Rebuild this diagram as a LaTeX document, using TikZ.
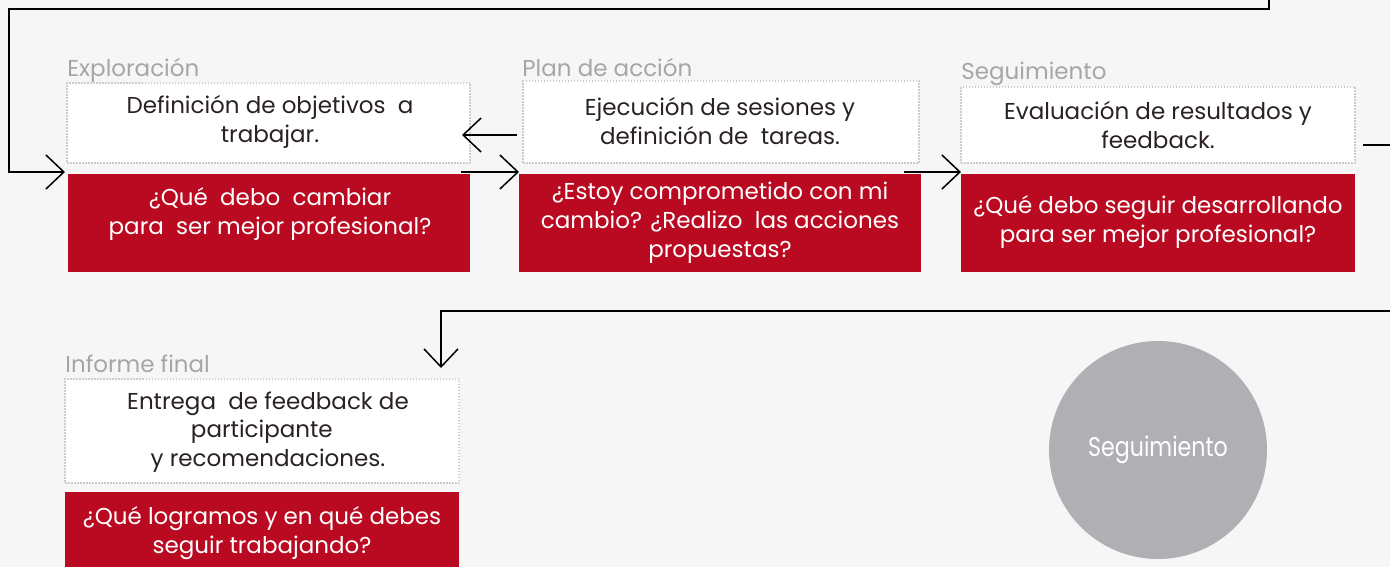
\documentclass[tikz,border=0pt]{standalone}
\usepackage{fontspec}
\setmainfont{Poppins}
\usetikzlibrary{arrows.meta}
\definecolor{bg}{HTML}{F6F6F6}
\definecolor{redbox}{HTML}{BA0A22}
\definecolor{lbl}{HTML}{A6A6A6}
\definecolor{dotc}{HTML}{CDCDCD}
\definecolor{txt}{HTML}{2A2222}
\definecolor{circ}{HTML}{B0AFB4}
\tikzset{
  whitebox/.style={draw=dotc, line width=0.75pt, dash pattern=on 0.75pt off 0.75pt, fill=white, inner sep=0pt},
  redrect/.style={fill=redbox, draw=none, inner sep=0pt},
  wtext/.style={text=txt, align=center, font=\fontsize{11.5}{14.4}\selectfont, inner sep=0pt},
  rtext/.style={text=white, align=center, font=\fontsize{11.5}{14.4}\selectfont, inner sep=0pt},
  stagelbl/.style={text=lbl, anchor=base west, font=\fontsize{11.5}{14}\selectfont, inner sep=0pt},
  arr/.style={-{Straight Barb[length=9pt,width=17pt]}, line width=0.75pt, black},
  conn/.style={line width=0.75pt, black}
}
\begin{document}
\begin{tikzpicture}[x=0.5pt,y=-0.5pt]
\fill[bg] (0,0) rectangle (1390,567);
\useasboundingbox (0,0) rectangle (1390,567);

% boxes
\node[whitebox, minimum width=201.5pt, minimum height=40pt] (e1) at (268.5,123) {};
\node[redrect, minimum width=201pt, minimum height=49pt] (e2) at (269,223) {};
\node[whitebox, minimum width=198pt, minimum height=41pt] (p1) at (721,122) {};
\node[redrect, minimum width=201pt, minimum height=49pt] (p2) at (720,223) {};
\node[whitebox, minimum width=197pt, minimum height=38pt] (s1) at (1158,125) {};
\node[redrect, minimum width=197pt, minimum height=49pt] (s2) at (1158,223) {};
\node[whitebox, minimum width=197pt, minimum height=52pt] (i1) at (262,431) {};
\node[redrect, minimum width=197pt, minimum height=37.5pt] (i2) at (262,529.75) {};

% stage labels
\node[stagelbl] (le) at (67,76) {Exploración};
\node[stagelbl] (lp) at (522,76) {Plan de acción};
\node[stagelbl] (ls) at (961,80) {Seguimiento};
\node[stagelbl] (li) at (65,372) {Informe final};

% texts
\node[wtext] (te1) at (270,122) {Definición de objetivos\ \ a\\trabajar.};
\node[rtext] (te2) at (270,214) {¿Qué\ \ debo\ \ cambiar\\para\ \ ser mejor profesional?};
\node[wtext] (tp1) at (720,121) {Ejecución de sesiones y\\definición de\ \ tareas.};
\node[rtext] (tp2) at (720,223) {¿Estoy comprometido con mi\\cambio? ¿Realizo\ \ las acciones\\propuestas?};
\node[wtext] (ts1) at (1158,125) {Evaluación de resultados y\\feedback.};
\node[rtext] (ts2) at (1158,222) {¿Qué debo seguir desarrollando\\para ser mejor profesional?};
\node[wtext] (ti1) at (268,432) {Entrega\ \ de feedback de\\participante\ \ \ \ \\y recomendaciones.};
\node[rtext] (ti2) at (262,533) {¿Qué logramos y en qué debes\\seguir trabajando?};

% circle
\node[circle, fill=circ, minimum size=109pt, inner sep=0pt, text=white] (c) at (1158,450)
  {\raisebox{0pt}{\scalebox{0.82}[1]{\fontsize{13.5}{15}\selectfont Seguimiento}}};

% connector points
\coordinate (topin) at (1269,0);
\coordinate (t1) at (65,172);
\coordinate (bs) at (517,135);
\coordinate (bt) at (462,135);
\coordinate (f1s) at (461,172);
\coordinate (f1t) at (519,172);
\coordinate (f2s) at (904,172);
\coordinate (f2t) at (961,172);
\coordinate (outs) at (1363,145);
\coordinate (oute) at (1390,145);
\coordinate (ins) at (1390,311);
\coordinate (int) at (441,368);

\draw[arr] (topin) -- (1269,9) -- (9,9) -- (9,172) -- (t1);
\draw[arr] (bs) -- (bt);
\draw[arr] (f1s) -- (f1t);
\draw[arr] (f2s) -- (f2t);
\draw[conn] (outs) -- (oute);
\draw[arr] (ins) -- (441,311) -- (int);
\end{tikzpicture}
\end{document}
